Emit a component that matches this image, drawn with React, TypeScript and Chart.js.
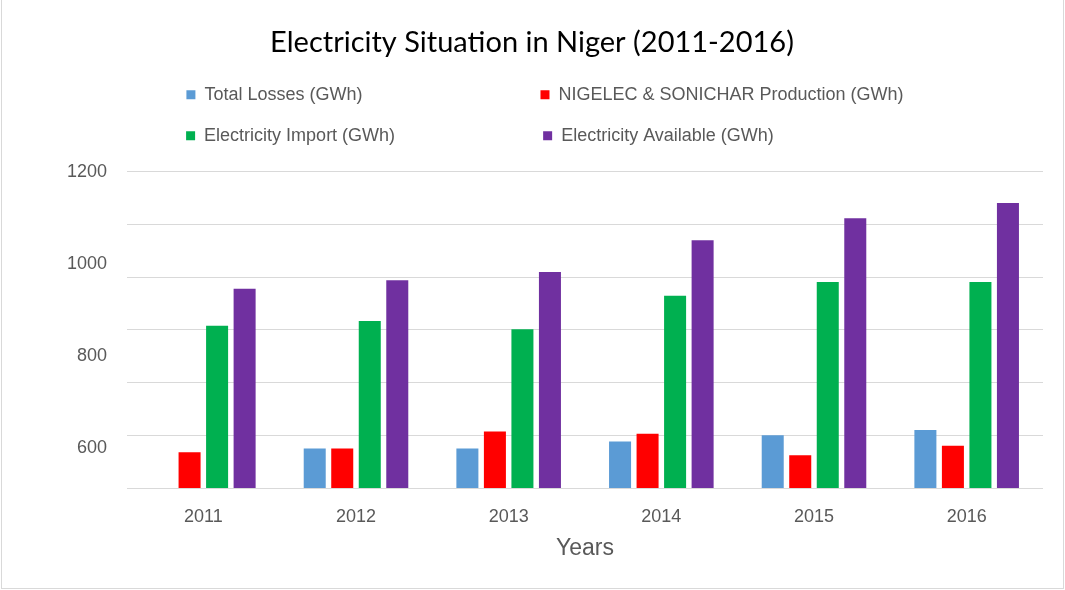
import React, { useEffect, useRef } from 'react';
import { Chart, registerables } from 'chart.js';

Chart.register(...registerables);

// ---- data ----
const years = ['2011', '2012', '2013', '2014', '2015', '2016'];
const totalLosses = [null, 675, 675, 688, 700, 710];
const production = [668, 675, 707, 703, 662, 680];
const imports = [908, 917, 901, 965, 991, 991];
const available = [978, 994, 1010, 1070, 1112, 1141];
const seriesLabels = [
  'Total Losses (GWh)',
  'NIGELEC & SONICHAR Production (GWh)',
  'Electricity Import (GWh)',
  'Electricity Available (GWh)',
];
const seriesColors = ['#5B9BD5', '#FF0000', '#00B050', '#7030A0'];
const gridTicks = [600, 700, 800, 900, 1000, 1100, 1200];
const labelTicks = [600, 800, 1000, 1200];

const FAMILY = "'Liberation Sans', Arial, sans-serif";
const GREY = '#595959';
const LEGEND_SIZE = 18;
const LEGEND_BOX = 9;
const LEGEND_PAD = 23;
const COL1_WIDTH = 332;
const COL2_WIDTH = 443;

export default function App() {
  const ref = useRef<HTMLCanvasElement>(null);

  useEffect(() => {
    const canvas = ref.current;
    if (!canvas) return;

    const mctx = document.createElement('canvas').getContext('2d')!;
    mctx.font = `${LEGEND_SIZE}px ${FAMILY}`;
    const padTo = (t: string, target: number) => {
      let s = t;
      while (mctx.measureText(s + ' ').width <= target) s += ' ';
      const a = Math.abs(target - mctx.measureText(s).width);
      const b = Math.abs(target - mctx.measureText(s + ' ').width);
      return b < a ? s + ' ' : s;
    };
    const inner = LEGEND_BOX + LEGEND_SIZE / 2;
    const legendTexts = seriesLabels.map((t, i) =>
      padTo(t, (i % 2 === 0 ? COL1_WIDTH : COL2_WIDTH) - inner)
    );

    const legendGap = {
      id: 'legendGap',
      beforeInit(chart: any) {
        const lg = chart.legend;
        if (lg && !lg.__patched) {
          const orig = lg.fit;
          lg.fit = function () {
            orig.call(this);
            this.height += 17;
          };
          lg.__patched = true;
        }
      },
    };

    const dataSets = [totalLosses, production, imports, available];

    const chart = new Chart(canvas, {
      type: 'bar',
      data: {
        labels: years,
        datasets: dataSets.map((d, i) => ({
          label: seriesLabels[i],
          data: d,
          xAxisID: 'x',
          yAxisID: 'y',
          backgroundColor: seriesColors[i],
          borderWidth: 0,
          barPercentage: 0.8,
          categoryPercentage: 0.721,
        })),
      },
      options: {
        responsive: false,
        animation: false,
        layout: { padding: { top: 0, left: 21, right: 22, bottom: 0 } },
        font: { family: FAMILY },
        plugins: {
          title: {
            display: true,
            text: 'Electricity Situation in Niger (2011-2016)',
            color: '#000000',
            font: { family: "Lato, 'Liberation Sans', sans-serif", size: 29, weight: 'normal' },
            padding: { top: 25, bottom: 3 },
          },
          legend: {
            display: true,
            position: 'top',
            align: 'center',
            fullSize: false,
            labels: {
              boxWidth: LEGEND_BOX,
              boxHeight: LEGEND_BOX,
              padding: LEGEND_PAD,
              color: GREY,
              font: { family: FAMILY, size: LEGEND_SIZE },
              generateLabels: (ch: any) => {
                const items = Chart.defaults.plugins.legend.labels.generateLabels(ch);
                items.forEach((it: any, i: number) => {
                  it.text = legendTexts[i];
                  it.lineWidth = 0;
                });
                return items;
              },
            },
          },
          tooltip: { enabled: false },
        },
        scales: {
          x: {
            grid: { display: false, drawTicks: false },
            border: { display: false },
            ticks: {
              color: GREY,
              font: { family: FAMILY, size: 18 },
              padding: 18,
              maxRotation: 0,
              autoSkip: false,
            },
            title: {
              display: true,
              text: 'Years',
              color: GREY,
              font: { family: FAMILY, size: 23 },
              padding: { top: 0, bottom: 28 },
            },
            afterFit: (s: any) => {
              s.height = 102;
            },
          },
          yl: {
            type: 'linear',
            position: 'left',
            min: 513,
            max: 1200,
            grid: { display: false, drawTicks: false },
            border: { display: false },
            ticks: {
              color: GREY,
              font: { family: FAMILY, size: 18 },
              padding: 20,
              callback: (v: any) => String(v),
            },
            afterBuildTicks: (axis: any) => {
              axis.ticks = labelTicks.map((v) => ({ value: v }));
            },
            afterFit: (s: any) => {
              s.width = 106;
            },
          },
          y: {
            type: 'linear',
            position: 'left',
            min: 600,
            max: 1200,
            grid: { color: '#d9d9d9', lineWidth: 1, drawTicks: false },
            border: { display: false },
            ticks: { display: false },
            afterBuildTicks: (axis: any) => {
              axis.ticks = gridTicks.map((v) => ({ value: v }));
            },
          },
        },
      },
      plugins: [legendGap],
    } as any);

    return () => chart.destroy();
  }, []);

  return (
    <div
      style={{
        position: 'fixed',
        left: 0,
        top: 0,
        width: 1065,
        height: 590,
        background: '#ffffff',
        overflow: 'hidden',
      }}
    >
      <canvas ref={ref} width={1065} height={590} style={{ display: 'block' }} />
      <div
        style={{
          position: 'absolute',
          left: 1,
          top: -1,
          width: 1063,
          height: 590,
          boxSizing: 'border-box',
          border: '1px solid #d9d9d9',
          pointerEvents: 'none',
        }}
      />
    </div>
  );
}
